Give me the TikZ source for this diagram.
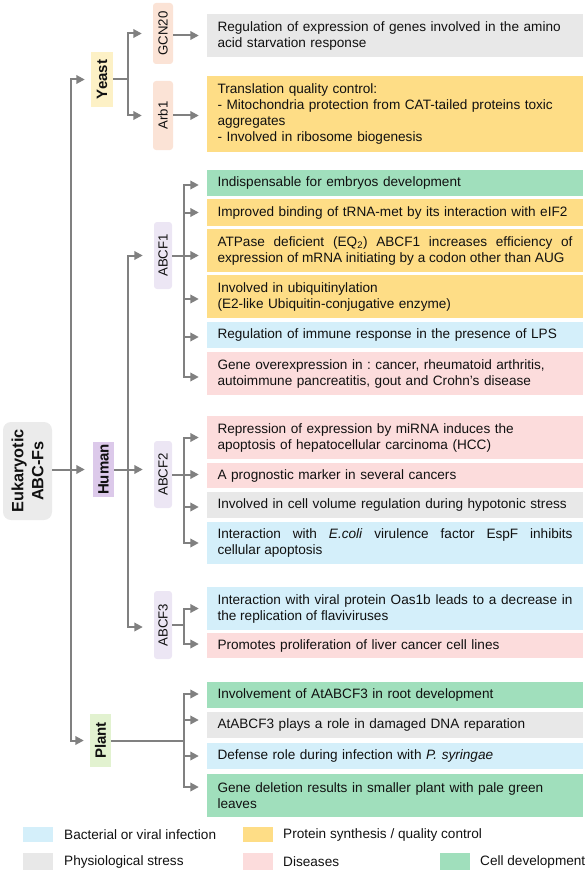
\documentclass[tikz,border=0pt]{standalone}
\usepackage{fontspec}
\setmainfont{Liberation Sans}
\usetikzlibrary{arrows.meta,calc}
\definecolor{cgray}{HTML}{E8E8E8}
\definecolor{cyel}{HTML}{FEDD86}
\definecolor{cgreen}{HTML}{A0DFBC}
\definecolor{cblue}{HTML}{D4EFFA}
\definecolor{cpink}{HTML}{FCDCDC}
\definecolor{cyeast}{HTML}{FDF1C6}
\definecolor{chuman}{HTML}{DCC9EA}
\definecolor{cplant}{HTML}{E2F2D0}
\definecolor{cpeach}{HTML}{FBE3D6}
\definecolor{cabcf}{HTML}{ECE6F4}
\definecolor{ceuk}{HTML}{EBEBEB}
\definecolor{carrow}{HTML}{808080}
\definecolor{ctext}{HTML}{111111}
\newcommand\mybodyfont{\fontsize{13.6pt}{16pt}\selectfont}
\newcommand\mylabfont{\fontsize{13.2pt}{16pt}\selectfont}
\newcommand\myboldfont{\fontsize{15pt}{18pt}\selectfont\bfseries}
\newcommand\myeukfont{\fontsize{16.3pt}{20pt}\selectfont\bfseries}
\frenchspacing
\begin{document}
\begin{tikzpicture}[x=1pt,y=-1pt,
  tbox/.style={draw=none, minimum width=376pt, text width=355pt, inner sep=0pt,
               align=left, font=\mybodyfont, text=ctext, anchor=center},
  jbox/.style={tbox, align=justify},
  rlab/.style={rotate=90, inner sep=0pt, anchor=center, align=center, text=ctext},
  gene/.style={rlab, font=\mylabfont, rounded corners=3pt},
  org/.style={rlab, font=\myboldfont},
  swatch/.style={draw=none, minimum width=30pt, inner sep=0pt},
  legtext/.style={anchor=west, inner sep=0pt, font=\mybodyfont, text=ctext},
  link/.style={draw=carrow, line width=2pt},
  arr/.style={link, -{Triangle[length=8.5pt,width=8.5pt]}, shorten >=8pt},
  garr/.style={arr, shorten >=11pt},
  oarr/.style={arr, shorten >=6pt}
]
\useasboundingbox (0,0) rectangle (588,872);

% ---------- left column ----------
\node[rlab, font=\myeukfont, fill=ceuk, rounded corners=8pt,
      minimum width=98pt, minimum height=49pt] (euk) at (27.5,471) {Eukaryotic\\ABC-Fs};
\node[org, fill=cyeast, minimum width=55pt, minimum height=22pt] (yeast) at (102,79.5) {Yeast};
\node[org, fill=chuman, minimum width=55pt, minimum height=21pt] (human) at (103.5,469.5) {Human};
\node[org, fill=cplant, minimum width=53pt, minimum height=21pt] (plant) at (100.5,740.5) {Plant};

% ---------- genes ----------
\node[gene, fill=cpeach, minimum width=61pt, minimum height=20pt] (gcn) at (163,33.5) {GCN20};
\node[gene, fill=cpeach, minimum width=69pt, minimum height=20pt] (arb) at (163,115.5) {Arb1};
\node[gene, fill=cabcf, minimum width=67pt, minimum height=18pt] (abcf1) at (163,255.5) {ABCF1};
\node[gene, fill=cabcf, minimum width=67pt, minimum height=18pt] (abcf2) at (163,474.5) {ABCF2};
\node[gene, fill=cabcf, minimum width=68pt, minimum height=18pt] (abcf3) at (163,625) {ABCF3};

% ---------- text boxes ----------
\node[tbox, fill=cgray, minimum height=43pt] (g1) at (395,35.5)
  {Regulation of expression of genes involved in the amino\\acid starvation response};
\node[tbox, fill=cyel, minimum height=76pt] (a1) at (395,114)
  {Translation quality control:\\- Mitochondria protection from CAT-tailed proteins toxic\\aggregates\\- Involved in ribosome biogenesis};

\node[tbox, fill=cgreen, minimum height=26pt] (h1a) at (395,183)
  {Indispensable for embryos development};
\node[tbox, fill=cyel, minimum height=27pt] (h1b) at (395,212.5)
  {Improved binding of tRNA-met by its interaction with eIF2};
\node[jbox, fill=cyel, minimum height=43pt] (h1c) at (395,250.5)
  {ATPase deficient (EQ\textsubscript{2}) ABCF1 increases efficiency of\linebreak expression of mRNA initiating by a codon other than AUG};
\node[tbox, fill=cyel, minimum height=43pt] (h1d) at (395,296.5)
  {Involved in ubiquitinylation\\(E2-like Ubiquitin-conjugative enzyme)};
\node[tbox, fill=cblue, minimum height=26pt] (h1e) at (395,335)
  {Regulation of immune response in the presence of LPS};
\node[tbox, fill=cpink, minimum height=43pt] (h1f) at (395,373.5)
  {Gene overexpression in : cancer, rheumatoid arthritis,\\autoimmune pancreatitis, gout and Crohn's disease};

\node[tbox, fill=cpink, minimum height=43pt] (h2a) at (395,437.5)
  {Repression of expression by miRNA induces the\\apoptosis of hepatocellular carcinoma (HCC)};
\node[tbox, fill=cpink, minimum height=25pt] (h2b) at (395,475.5)
  {A prognostic marker in several cancers};
\node[tbox, fill=cgray, minimum height=26pt] (h2c) at (395,505)
  {Involved in cell volume regulation during hypotonic stress};
\node[jbox, fill=cblue, minimum height=42pt] (h2d) at (395,543)
  {Interaction with \textit{E.coli} virulence factor EspF inhibits\linebreak cellular apoptosis};

\node[jbox, fill=cblue, minimum height=43pt] (h3a) at (395,608.5)
  {Interaction with viral protein Oas1b leads to a decrease in\linebreak the replication of flaviviruses};
\node[tbox, fill=cpink, minimum height=25pt] (h3b) at (395,645.5)
  {Promotes proliferation of liver cancer cell lines};

\node[tbox, fill=cgreen, minimum height=26pt] (pa) at (395,695)
  {Involvement of AtABCF3 in root development};
\node[tbox, fill=cgray, minimum height=26pt] (pb) at (395,725)
  {AtABCF3 plays a role in damaged DNA reparation};
\node[tbox, fill=cblue, minimum height=26pt] (pc) at (395,756)
  {Defense role during infection with \textit{P. syringae}};
\node[tbox, fill=cgreen, minimum height=43pt] (pd) at (395,795.5)
  {Gene deletion results in smaller plant with pale green\\leaves};

% ---------- legend ----------
\node[swatch, fill=cblue, minimum height=15pt] (lsb) at (38,834.5) {};
\node[legtext] (ltb) at (64,834.5) {Bacterial or viral infection};
\node[swatch, fill=cgray, minimum height=17pt] (lsg) at (38,861.5) {};
\node[legtext] (ltg) at (64,861.5) {Physiological stress};
\node[swatch, fill=cyel, minimum height=15pt] (lsy) at (258,834.5) {};
\node[legtext] (lty) at (283,834.5) {Protein synthesis / quality control};
\node[swatch, fill=cpink, minimum height=17pt] (lsp) at (258,861.5) {};
\node[legtext] (ltp) at (283,861.5) {Diseases};
\node[swatch, fill=cgreen, minimum height=17pt] (lsc) at (455,861.5) {};
\node[legtext] (ltc) at (480,861.5) {Cell development};

% ---------- connectors ----------
\coordinate (trunk) at (71,469.5);
\coordinate (yf) at (128,79.5);
\coordinate (hf) at (128,469.5);
\coordinate (f1) at (184,255.5);
\coordinate (f2) at (184,474.5);
\coordinate (f3) at (184,625);
\coordinate (pf) at (184,740.5);

% root
\draw[arr] (euk.south |- human.north) -- (human.north);
\draw[oarr] (trunk) |- (yeast.north);
\draw[oarr] (trunk) |- (plant.north);

% yeast
\draw[link] (yeast.south) -- (yf);
\draw[garr] (yf) |- (gcn.north);
\draw[garr] (yf) |- (arb.north);
\draw[arr] (gcn.south |- g1.west) -- (g1.west);
\draw[arr] (arb.south) -- (arb.south -| a1.west);

% human
\draw[link] (human.south) -- (hf);
\draw[garr] (hf) |- (abcf1.north);
\draw[garr] (hf) -- (hf -| abcf2.north);
\draw[garr] (hf) |- ([yshift=-2pt]abcf3.north);

% ABCF1
\draw[link] (abcf1.south) -- (f1);
\draw[arr] (f1) |- ([yshift=-2pt]h1a.west);
\draw[arr] (f1) |- (h1b.west);
\draw[arr] (f1) -- (f1 -| h1c.west);
\draw[arr] (f1) |- ([yshift=-2.5pt]h1d.west);
\draw[arr] (f1) |- ([yshift=-2pt]h1e.west);
\draw[arr] (f1) |- ([yshift=-3.5pt]h1f.west);

% ABCF2
\draw[link] (abcf2.south) -- (f2);
\draw[arr] (f2) |- (h2a.west);
\draw[arr] (f2) -- (f2 -| h2b.west);
\draw[arr] (f2) |- ([yshift=-2pt]h2c.west);
\draw[arr] (f2) |- (h2d.west);

% ABCF3
\draw[link] (abcf3.south) -- (f3);
\draw[arr] (f3) |- (h3a.west);
\draw[arr] (f3) |- ([yshift=1.5pt]h3b.west);

% plant
\draw[link] (plant.south) -- (pf);
\draw[arr] (pf) |- ([yshift=1pt]pa.west);
\draw[arr] (pf) |- ([yshift=5pt]pb.west);
\draw[arr] (pf) |- (pc.west);
\draw[arr] (pf) |- ([yshift=8.5pt]pd.west);
\end{tikzpicture}
\end{document}
